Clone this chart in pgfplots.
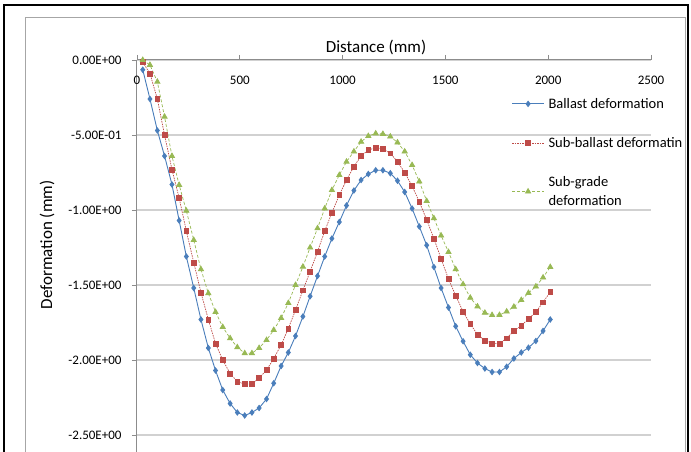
\documentclass[border=0pt]{standalone}
\usepackage{fontspec}
\setmainfont{Carlito}
\usepackage{pgfplots}
\usepackage{pgfplotstable}
\pgfplotsset{compat=1.18}
\definecolor{cB}{HTML}{4A7EBB}
\definecolor{cR}{HTML}{BE4B48}
\definecolor{cG}{HTML}{98B954}
\pgfplotstableread{
x b s g
28 -0.065 -0.015 0.0
63 -0.26 -0.09 -0.033
99 -0.47 -0.26 -0.145
134 -0.64 -0.50 -0.378
170 -0.83 -0.73 -0.64
205 -1.07 -0.92 -0.833
240 -1.31 -1.14 -1.005
276 -1.52 -1.35 -1.20
311 -1.73 -1.55 -1.395
347 -1.92 -1.73 -1.555
382 -2.07 -1.89 -1.68
417 -2.20 -2.00 -1.78
453 -2.29 -2.09 -1.855
488 -2.35 -2.145 -1.915
524 -2.37 -2.16 -1.955
559 -2.35 -2.16 -1.955
594 -2.32 -2.12 -1.92
630 -2.26 -2.067 -1.867
665 -2.155 -1.99 -1.80
701 -2.04 -1.90 -1.72
736 -1.95 -1.79 -1.62
771 -1.84 -1.667 -1.50
807 -1.71 -1.535 -1.378
842 -1.575 -1.41 -1.25
878 -1.44 -1.278 -1.122
913 -1.31 -1.14 -0.99
948 -1.19 -1.018 -0.867
984 -1.08 -0.90 -0.767
1019 -0.97 -0.80 -0.678
1055 -0.87 -0.71 -0.61
1090 -0.80 -0.64 -0.545
1125 -0.76 -0.60 -0.507
1161 -0.735 -0.585 -0.49
1196 -0.735 -0.593 -0.493
1232 -0.755 -0.622 -0.51
1267 -0.805 -0.678 -0.55
1302 -0.88 -0.75 -0.61
1338 -0.99 -0.84 -0.70
1373 -1.11 -0.945 -0.81
1409 -1.235 -1.065 -0.94
1444 -1.38 -1.19 -1.055
1479 -1.52 -1.325 -1.17
1515 -1.65 -1.46 -1.28
1550 -1.775 -1.57 -1.395
1586 -1.875 -1.678 -1.495
1621 -1.965 -1.76 -1.585
1656 -2.02 -1.83 -1.643
1692 -2.057 -1.87 -1.685
1727 -2.08 -1.89 -1.70
1763 -2.08 -1.89 -1.70
1798 -2.045 -1.855 -1.677
1833 -1.99 -1.807 -1.645
1869 -1.95 -1.77 -1.60
1904 -1.918 -1.727 -1.553
1940 -1.873 -1.68 -1.51
1975 -1.806 -1.615 -1.45
2010 -1.73 -1.547 -1.38
}\data
\begin{document}
\begin{tikzpicture}
\useasboundingbox (0pt,0pt) rectangle (691pt,451pt);
\begin{scope}
\clip (0pt,0pt) rectangle (691pt,451pt);
\fill[white] (0pt,0pt) rectangle (691pt,451pt);
\draw[line width=2pt, black] (4pt,-20pt) -- (4pt,446pt) -- (688pt,446pt) -- (688pt,-20pt);
\draw[line width=1.2pt, black!35] (25.5pt,-20pt) -- (25.5pt,433.5pt) -- (685.5pt,433.5pt) -- (685.5pt,-20pt);
\begin{axis}[
  at={(137pt,-59pt)}, anchor=south west, scale only axis,
  width=514pt, height=450pt,
  xmin=0, xmax=2500, ymin=-3, ymax=0,
  axis x line=top, axis y line=left,
  axis line style={-, draw=black!45, line width=1pt},
  tick style={draw=black!45, line width=0.8pt},
  major tick length=5pt, tick align=outside,
  xtick={0,500,1000,1500,2000,2500},
  xticklabels={0,500,1000,1500,2000,2500},
  ytick={-2.5,-2,-1.5,-1,-0.5,0},
  yticklabels={-2.50E+00,-2.00E+00,-1.50E+00,-1.00E+00,-5.00E-01,0.00E+00},
  ymajorgrids, major grid style={draw=black!18, line width=1.5pt},
  ticklabel style={font=\fontsize{13}{15}\selectfont},
  xticklabel style={anchor=north, yshift=-18pt},
  yticklabel style={anchor=east, xshift=-7pt},
  xlabel={Distance (mm)},
  xlabel style={at={(axis description cs:0.465,1)}, anchor=base, yshift=7pt, font=\fontsize{17}{19}\selectfont},
  ylabel={Deformation (mm)},
  ylabel style={at={(axis description cs:-0.175,0.589)}, anchor=center, font=\fontsize{17}{19}\selectfont},
  legend image code/.code={\draw[mark repeat=2,mark phase=2,#1] plot coordinates {(0pt,0pt) (16pt,0pt) (32pt,0pt)};},
  legend style={draw=none, fill=none, at={(axis description cs:0.7285,0.918)}, anchor=north west,
    inner sep=0pt, row sep=25.5pt, column sep=3pt,
    nodes={inner sep=1pt, font=\fontsize{14.5}{19}\selectfont}},
  legend cell align=left,
  clip=false,
]
\addplot[cB, line width=0.9pt, mark=diamond*, mark size=2.6pt, mark options={solid, fill=cB, draw=cB}] table[x=x,y=b]{\data};
\addlegendentry{Ballast deformation}
\addplot[cR, line width=0.7pt, dash pattern=on 1.5pt off 1pt, mark=square*, mark size=2.4pt, mark options={solid, fill=cR, draw=cR}] table[x=x,y=s]{\data};
\addlegendentry{Sub-ballast deformatin}
\addplot[cG, line width=0.7pt, dash pattern=on 3pt off 2pt, mark=triangle*, mark size=3pt, mark options={solid, fill=cG, draw=cG}] table[x=x,y=g]{\data};
\addlegendentry[align=left]{Sub-grade\\deformation}
\end{axis}
\end{scope}
\end{tikzpicture}
\end{document}
